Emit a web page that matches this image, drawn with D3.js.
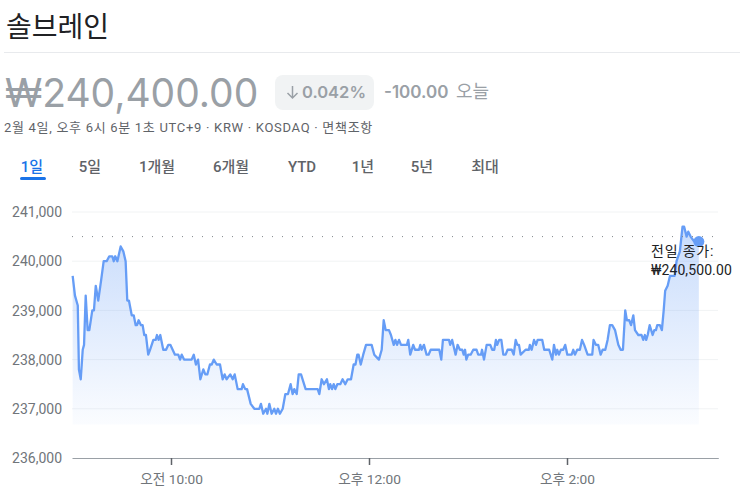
<!DOCTYPE html>
<html lang="ko"><head><meta charset="utf-8">
<script src="https://cdn.jsdelivr.net/npm/d3@7"></script>
<style>
html,body{margin:0;padding:0;background:#fff;overflow:hidden}
svg{display:block}
text{font-family:Roboto,"Noto Sans CJK KR",sans-serif}
</style></head><body>
<svg id="c" width="740" height="499"></svg>
<script>
const title="솔브레인";
const priceText="₩240,400.00", pctText="0.042%", changeText="-100.00", todayText="오늘";
const metaText="2월 4일, 오후 6시 6분 1초 UTC+9 · KRW · KOSDAQ · 면책조항";
const tabs=["1일","5일","1개월","6개월","YTD","1년","5년","최대"];
const tabCenters=[32,90,157,231,302,363,422,485];
const yTicks=[236000,237000,238000,239000,240000,241000];
const xTicks=[60,180,300];
const xTickLabels=["오전 10:00","오후 12:00","오후 2:00"];
const prevClose=240500;
const prevCloseLines=["전일 종가:","₩240,500.00"];
const areaFloor=236680;
const minutes=[0.4,1.8,3.5,4.2,5.3,6.5,7.3,8.3,9.5,10.5,12.3,13.3,14.4,15.9,17.6,19.2,21,22.6,24.4,25.3,26.2,27.5,29.5,31.1,32.5,33.5,34.5,36.2,37.4,38.6,39.4,40.4,41.8,42.8,43.8,44.8,46.2,47.3,49.3,50.7,51.5,52.5,53.5,55.3,57,58.4,59.6,61,62.4,64.4,65.5,66.5,67.9,72.5,73.8,75.1,76.4,77.8,79.6,80.8,82,83.6,84.7,85.9,87.7,89.7,91.3,92.5,93.7,95.9,97.4,98.6,100.4,102.8,103.6,105,106.1,108.3,110.5,113.5,114.5,115.9,117.6,118.4,119.6,121,122.6,123.6,124.8,126,127.7,129.3,130.9,132.5,133.7,134.7,136.2,137.4,138.8,141.6,148.9,149.9,151.3,152.7,154.5,155.7,156.5,157.6,158.6,159.6,160.8,162.6,164,165.6,167.1,169.1,170.7,171.8,172.9,173.7,175,176.5,178.2,181.6,183.2,186,187.7,188.9,190.1,192.1,193.3,195,196,197,198.2,199.4,203,203.8,205,206.8,207.9,210.3,211.1,211.9,213.3,214.9,216.1,217.4,222.6,223.8,224.8,228.5,229.2,230.4,232.5,233.7,235.1,236.5,237.4,238.2,239,240.1,241.6,243.2,245.2,246.2,247.9,248.5,249.7,251.3,253.5,254.7,255.9,256.9,257.7,258.9,260.2,261.4,262.8,264,266.5,267.7,268.9,269.9,270.9,271.9,274.9,276.9,277.5,278.6,280,281.2,282.2,285,286.2,289.2,291.1,292.1,293.3,294.1,295.1,296.3,297.7,298.9,300.2,302.8,303.8,304.8,306.2,307.8,309.1,310.4,312.5,315.3,316.1,317.5,318.9,320.4,321.6,323.2,324.6,326,327.4,329.1,331.1,332.5,333.9,335.3,336.3,337.7,338.8,340.2,341.2,343.2,345.2,346.2,347.2,348,348.9,350.1,351.9,352.9,353.9,354.7,356.3,357.5,358.6,359.5,361,362.4,365.2,366.4,368.4,370,371,372.5,373.5,374.9,377.1,379.9];
const prices=[239700,239300,239100,237800,237600,238200,238300,239300,238600,238600,239000,239000,239500,239200,239600,240000,240000,240100,240100,240000,240100,240000,240300,240200,240000,239200,239200,238900,238900,238700,238700,238800,238700,238700,238500,238500,238100,238200,238400,238400,238500,238400,238500,238200,238200,238300,238300,238200,238100,238100,238000,238100,238000,238000,238100,237900,238000,237600,237800,237700,237700,237900,237900,238000,237900,237900,237600,237700,237600,237700,237600,237700,237400,237400,237500,237400,237400,237100,237000,237000,237100,236900,237000,236900,237100,236900,237000,236900,237000,236900,237000,237300,237300,237500,237300,237400,237300,237700,237700,237400,237400,237300,237600,237500,237600,237400,237500,237400,237500,237400,237500,237500,237600,237500,237600,237600,237900,237900,238100,238100,237900,238100,238300,238300,238100,238000,238200,238800,238600,238600,238500,238300,238400,238300,238400,238300,238300,238400,238100,238300,238200,238200,238300,238200,238300,238100,238100,238200,238200,238000,238400,238400,238300,238400,238100,238300,238200,238200,238100,238200,238000,238100,238100,238200,238200,238100,238100,238200,238000,238300,238300,238200,238200,238400,238300,238400,238400,238100,238100,238200,238200,238100,238400,238300,238300,238100,238200,238200,238300,238200,238400,238300,238400,238400,238200,238200,238000,238300,238100,238200,238100,238200,238200,238300,238100,238100,238200,238100,238200,238200,238400,238300,238100,238100,238400,238300,238300,238100,238200,238200,238400,238700,238700,238600,238300,238200,238200,239000,238800,238800,238700,238900,238600,238500,238500,238400,238500,238400,238500,238700,238500,238600,238600,238700,238700,238600,239000,239400,239500,239700,239700,240000,240200,240700,240700,240500,240600,240500,240400,240400];

const svg=d3.select("#c");
const x=d3.scaleLinear().domain([0,392]).range([72,718.8]);
const y=d3.scaleLinear().domain([236000,241000]).range([458,212]);
const data=minutes.map((m,i)=>({m,p:prices[i]}));
const GREY="#9aa0a6", DARK="#5f6368";

// header
svg.append("text").attr("x",6).attr("y",37).attr("font-size",28).attr("fill","#202124").text(title);
svg.append("line").attr("x1",4).attr("x2",740).attr("y1",52.5).attr("y2",52.5).attr("stroke","#e8eaed");
svg.append("text").attr("x",5).attr("y",107).attr("font-size",39).attr("fill",GREY).style("font-family","Inter").text(priceText);
svg.append("rect").attr("x",275).attr("y",75).attr("width",99).attr("height",35).attr("rx",8).attr("fill","#f1f3f4");
svg.append("path").attr("d","M292.5 86V98M287.5 93L292.5 98L297.5 93").attr("fill","none").attr("stroke",GREY).attr("stroke-width",1.5);
svg.append("text").attr("x",302).attr("y",98).attr("font-size",16.5).attr("font-weight",600).attr("fill",GREY).style("font-family","Inter").text(pctText);
svg.append("text").attr("x",384).attr("y",98).attr("font-size",17).attr("font-weight",600).attr("fill",GREY).style("font-family","Inter").text(changeText);
svg.append("text").attr("x",456).attr("y",98).attr("font-size",18).attr("fill",GREY).text(todayText);
svg.append("text").attr("x",4).attr("y",132).attr("font-size",13).attr("letter-spacing",0.7).attr("fill",DARK).text(metaText);
svg.selectAll(".tab").data(tabs).join("text").attr("class","tab")
  .attr("x",(d,i)=>tabCenters[i]).attr("y",172).attr("text-anchor","middle").attr("font-size",15).attr("font-weight",500)
  .attr("fill",(d,i)=>i===0?"#1a73e8":DARK).text(d=>d);
svg.append("rect").attr("x",20).attr("y",177).attr("width",26).attr("height",3).attr("rx",1.5).attr("fill","#1a73e8");

// grid
svg.append("g").selectAll("line").data(yTicks.slice(1)).join("line")
  .attr("x1",72).attr("x2",718).attr("y1",d=>y(d)).attr("y2",d=>y(d)).attr("stroke","#f1f3f4");

// area
const grad=svg.append("defs").append("linearGradient").attr("id","g").attr("gradientUnits","userSpaceOnUse")
  .attr("x1",0).attr("x2",0).attr("y1",y(240700)).attr("y2",y(areaFloor));
grad.append("stop").attr("offset",0).attr("stop-color","#669df6").attr("stop-opacity",.36);
grad.append("stop").attr("offset",1).attr("stop-color","#669df6").attr("stop-opacity",.03);
svg.append("path").datum(data).attr("fill","url(#g)")
  .attr("d",d3.area().x(d=>x(d.m)).y0(y(areaFloor)).y1(d=>y(d.p)));
svg.append("path").datum(data).attr("fill","none").attr("stroke","#669df6").attr("stroke-width",2.3).attr("stroke-linejoin","round")
  .attr("d",d3.line().x(d=>x(d.m)).y(d=>y(d.p)));

// previous close
svg.append("line").attr("x1",72).attr("x2",718).attr("y1",y(prevClose)).attr("y2",y(prevClose))
  .attr("stroke","#80868b").attr("stroke-width",1).attr("stroke-dasharray","1 9");
const last=data[data.length-1];
svg.append("circle").attr("cx",x(last.m)).attr("cy",y(last.p)).attr("r",5.5).attr("fill","#669df6");
prevCloseLines.forEach((t,i)=>svg.append("text").attr("x",651).attr("y",256+i*18.5).attr("font-size",14).attr("letter-spacing",i===0?0.8:0.1).attr("fill","#202124").text(t));

// axes
const ax=svg.append("g").attr("transform","translate(0,458)").call(
  d3.axisBottom(x).tickValues(xTicks).tickSize(7).tickPadding(9).tickFormat((d,i)=>xTickLabels[i]));
ax.select(".domain").attr("stroke","#9aa0a6").attr("stroke-width",1).attr("d","M72.5,0.5H718.8");
ax.selectAll(".tick line").attr("stroke","#5f6368").attr("stroke-width",1.5);
ax.selectAll("text").attr("font-size",13.7).attr("fill","#70757a");
const ay=svg.append("g").attr("transform","translate(72,0.3)").call(
  d3.axisLeft(y).tickValues(yTicks).tickSize(0).tickPadding(10).tickFormat(d3.format(",")));
ay.select(".domain").remove();
ay.selectAll("text").attr("font-size",14).attr("fill","#70757a");
</script>
</body></html>
